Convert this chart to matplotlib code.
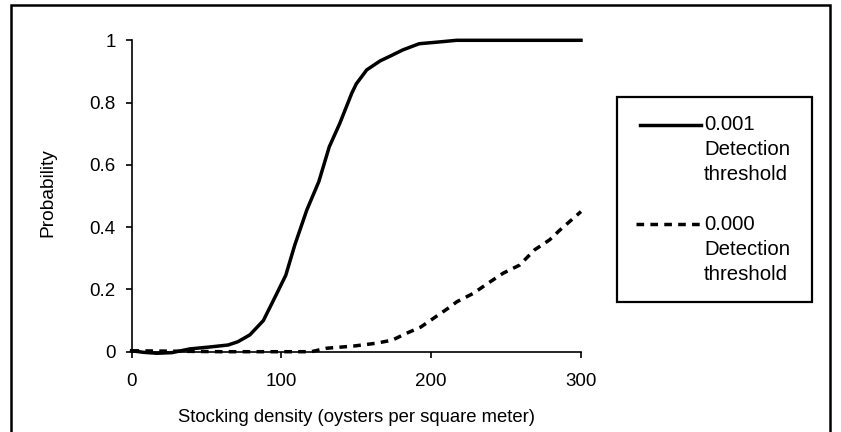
import matplotlib
matplotlib.use("Agg")
import matplotlib.pyplot as plt
from matplotlib.patches import Rectangle
from matplotlib.lines import Line2D

plt.rcParams['font.family'] = ['Liberation Sans', 'DejaVu Sans']

# Data
x_solid = [0, 8, 17, 27, 39, 52, 64.5, 71, 79, 88, 97, 103, 109, 117, 125, 132, 139, 147, 150,
           157, 166, 173, 181, 192, 206, 217, 230, 250, 270, 300]
y_solid = [0.003, -0.002, -0.005, -0.003, 0.009, 0.015, 0.0215, 0.032, 0.054, 0.10, 0.187, 0.246,
           0.343, 0.455, 0.546, 0.658, 0.733, 0.83, 0.86, 0.905, 0.934, 0.95, 0.969, 0.989, 0.995,
           1.0, 1.0, 1.0, 1.0, 1.0]

x_dash = [0, 20, 40, 60, 80, 100, 120, 130, 148, 163, 174, 183, 193, 203, 213, 217, 228, 238,
          248, 259, 269, 279, 286, 300]
y_dash = [0.003, 0.002, 0.001, 0.0, 0.0, 0.0, 0.0, 0.011, 0.018, 0.027, 0.037, 0.058, 0.079,
          0.112, 0.145, 0.16, 0.187, 0.22, 0.252, 0.278, 0.327, 0.359, 0.391, 0.45]

labels = [["0.001", "Detection", "threshold"], ["0.000", "Detection", "threshold"]]
xlabel = "Stocking density (oysters per square meter)"
ylabel = "Probability"
xticks = [0, 100, 200, 300]
yticks = [0, 0.2, 0.4, 0.6, 0.8, 1.0]
yticklabels = ["0", "0.2", "0.4", "0.6", "0.8", "1"]

W, H = 841, 432
fig = plt.figure(figsize=(W / 100, H / 100), dpi=100)
ax = fig.add_axes([131.5 / W, 1 - 351.7 / H, (581 - 131.5) / W, (351.7 - 40.3) / H])

lw = 2.5
ax.plot(x_solid, y_solid, color='black', lw=lw, clip_on=False, solid_joinstyle='round')
ax.plot(x_dash, y_dash, color='black', lw=lw, dashes=(2.2, 1.8), clip_on=False)

ax.set_xlim(0, 300)
ax.set_ylim(0, 1)
ax.set_xticks(xticks)
ax.set_yticks(yticks)
ax.set_yticklabels(yticklabels)
for s in ['top', 'right']:
    ax.spines[s].set_visible(False)
for s in ['left', 'bottom']:
    ax.spines[s].set_linewidth(1.2)
ax.tick_params(axis='both', direction='out', length=4.5, width=1.2, labelsize=13.5)
ax.tick_params(axis='y', pad=7)
ax.tick_params(axis='x', pad=11)
ax.set_xlabel(xlabel, fontsize=13.3)
ax.set_ylabel(ylabel, fontsize=13.8)
ax.yaxis.set_label_coords(-(131.5 - 48) / (581 - 131.5), (351.7 - 192.5) / (351.7 - 40.3))
ax.xaxis.set_label_coords(0.5, -(418 - 351.7) / (351.7 - 40.3))
ax.xaxis.label.set_va('center')
ax.yaxis.label.set_va('center')

def fx(px):
    return px / W
def fy(py):
    return 1 - py / H

# Figure frame
fig.patches.append(Rectangle((fx(11), fy(440)), fx(830) - fx(11), fy(5) - fy(440),
                             transform=fig.transFigure, fill=False, lw=1.8, ec='black'))

# Legend box
fig.patches.append(Rectangle((fx(617), fy(302)), fx(812) - fx(617), fy(97) - fy(302),
                             transform=fig.transFigure, fill=False, lw=1.6, ec='black'))
fig.lines.append(Line2D([fx(640), fx(701)], [fy(125), fy(125)], transform=fig.transFigure,
                        color='black', lw=lw))
fig.lines.append(Line2D([fx(636), fx(701)], [fy(224), fy(224)], transform=fig.transFigure,
                        color='black', lw=lw, dashes=(2.2, 1.8)))
baselines = [[129.5, 155, 180.5], [229.5, 255, 280.5]]
for lab, bls in zip(labels, baselines):
    for line, b in zip(lab, bls):
        fig.text(fx(704), fy(b), line, fontsize=14.7, va='baseline', ha='left',
                 transform=fig.transFigure)

fig.savefig("out.png", dpi=100)
